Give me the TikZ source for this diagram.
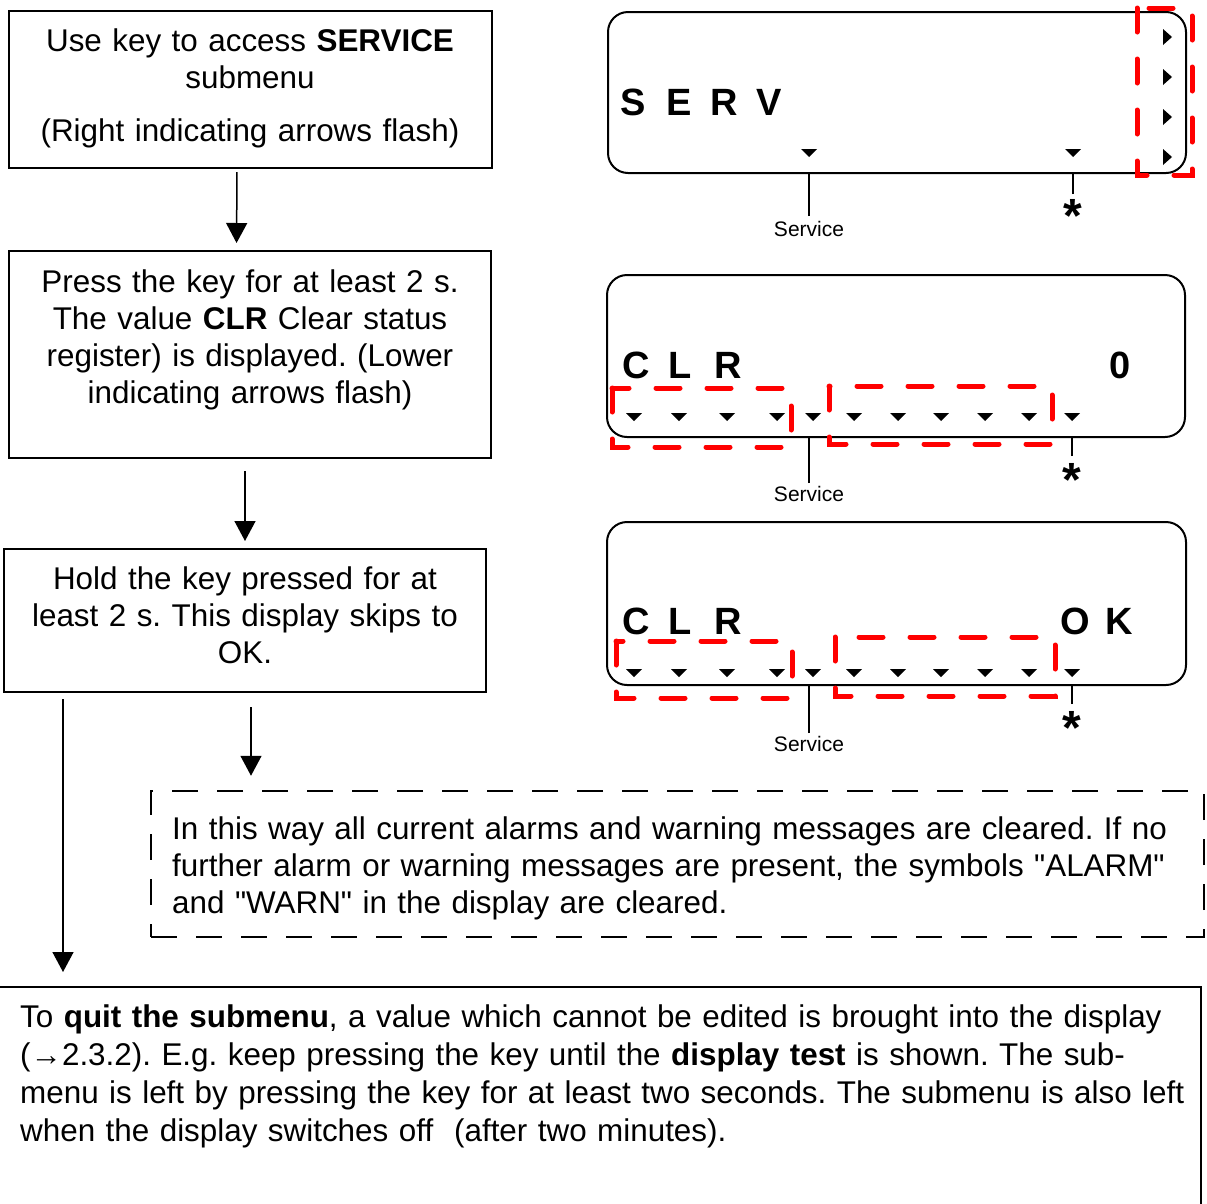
\documentclass[tikz,border=0pt]{standalone}
\usepackage{fontspec}
\setmainfont{Liberation Sans}
\usetikzlibrary{arrows.meta,calc}
\frenchspacing

% small LCD segment markers
\newcommand\lcddown[2]{\fill (#1-8,#2-4) -- (#1+8,#2-4) -- (#1,#2+4) -- cycle;}
\newcommand\lcdright[2]{\fill (#1-4,#2-8) -- (#1-4,#2+8) -- (#1+5,#2) -- cycle;}
\newcommand\dq{\textquotedbl}

\begin{document}
\begin{tikzpicture}[x=1pt,y=-1pt,
  box/.style={draw, line width=2pt, inner sep=0pt},
  body/.style={font=\fontsize{31.4}{37}\selectfont, inner sep=0pt},
  lcd/.style={draw, line width=2pt, rounded corners=20pt, inner sep=0pt},
  flash/.style={draw=red, line width=5pt, dash pattern=on 24pt off 27pt, line cap=round},
  note/.style={draw, line width=2.5pt, dash pattern=on 26pt off 19pt, inner sep=0pt},
  arr/.style={line width=1.5pt, -{Triangle[length=20pt,width=21pt]}},
  lead/.style={line width=1.3pt},
  segch/.style={font=\fontsize{38}{38}\selectfont\bfseries, anchor=base, inner sep=0pt},
  tag/.style={font=\fontsize{21}{21}\selectfont, inner sep=1pt, anchor=north},
  star/.style={font=\fontsize{48}{48}\selectfont\bfseries, inner sep=0pt, anchor=north}]
\useasboundingbox (0,0) rectangle (1207,1203);
\clip (0,0) rectangle (1207,1203);

% ---------- left column: steps ----------
\node[box, minimum width=483pt, minimum height=157pt] (b1) at (250.5,89.5) {};
\node[body, text width=470pt, align=center, anchor=base] (t1) at (250,51)
  {Use key to access \textbf{SERVICE}\\ submenu\\[16pt] (Right indicating arrows flash)};

\node[box, minimum width=482pt, minimum height=207pt] (b2) at (250,354.5) {};
\node[body, text width=470pt, align=center, anchor=base] (t2) at (250,292)
  {Press the key for at least 2 s.\\ The value \textbf{CLR} Clear status\\ register) is displayed. (Lower\\ indicating arrows flash)};

\node[box, minimum width=482pt, minimum height=143pt] (b3) at (245,620.5) {};
\node[body, text width=470pt, align=center, anchor=base] (t3) at (245,589)
  {Hold the key pressed for at\\ least 2 s. This display skips to\\ OK.};

% ---------- note and quit box ----------
\node[note, minimum width=1053pt, minimum height=146pt] (b4) at (677.5,864) {};
\node[body, text width=1030pt, align=left, anchor=base west] (t4) at (172,839)
  {In this way all current alarms and warning messages are cleared. If no\\
   further alarm or warning messages are present, the symbols \dq ALARM\dq\\
   and \dq WARN\dq\ in the display are cleared.};

\node[box, minimum width=1211pt, minimum height=243pt] (b5) at (595.5,1108.5) {};
\node[body, font=\fontsize{31.4}{38}\selectfont, text width=1185pt, align=left, anchor=base west] (t5) at (20,1027)
  {To \textbf{quit the submenu}, a value which cannot be edited is brought into the display\\
   (→2.3.2). E.g. keep pressing the key until the \textbf{display test} is shown. The sub-\\
   menu is left by pressing the key for at least two seconds. The submenu is also left\\
   when the display switches off~ (after two minutes).};

% ---------- flow arrows ----------
\coordinate (a3top) at ([xshift=-182pt]b3.south);
\coordinate (a4top) at ([xshift=6pt]b3.south);
\draw[arr, shorten <=3pt, shorten >=7pt] ([xshift=-13.5pt]b1.south) -- ([xshift=-13.5pt]b2.north);
\draw[arr, shorten <=12pt, shorten >=7pt] ([xshift=-5pt]b2.south) -- (b3.north);
\draw[arr, shorten <=6pt, shorten >=14pt] (a3top) -- (a3top |- b5.north);
\draw[arr, shorten <=14pt, shorten >=14pt] (a4top) -- (a4top |- b4.north);

% ---------- display 1: SERV ----------
\node[lcd, minimum width=578pt, minimum height=161pt] (d1) at (897,92.5) {};
\node[segch] (d1s) at (633,115) {S};
\node[segch] (d1e) at (679.5,115) {E};
\node[segch] (d1r) at (724,115) {R};
\node[segch] (d1v) at (769,115) {V};
\lcddown{809}{153}
\lcddown{1073}{153}
\foreach \yy in {37,77,117,157} {\lcdright{1167}{\yy}}
\draw[flash] (1137,8) rectangle (1192,175);
\node[tag] (v1) at (809,220) {Service};
\node[star] (s1) at (1073,199) {*};
\draw[lead, shorten <=4pt] (v1.north) -- (v1.north |- d1.south);
\draw[lead, shorten <=5pt] (s1.north) -- (s1.north |- d1.south);

% ---------- display 2: CLR 0 ----------
\node[lcd, minimum width=578pt, minimum height=162pt] (d2) at (896,356) {};
\node[segch] (d2c) at (636,378) {C};
\node[segch] (d2l) at (680,378) {L};
\node[segch] (d2r) at (728,378) {R};
\node[segch] (d2n) at (1120,378) {0};
\foreach \xx in {634,679,727,777,813,854,898,941,985,1029,1072} {\lcddown{\xx}{417}}
\draw[flash] (612,388) rectangle (791,447);
\draw[flash] (829,386) rectangle (1052,444);
\node[tag] (v2) at (809,485) {Service};
\node[star] (s2) at (1072,463) {*};
\draw[lead, shorten <=2pt] (v2.north) -- (v2.north |- d2.south);
\draw[lead, shorten <=7pt] (s2.north) -- (s2.north |- d2.south);

% ---------- display 3: CLR OK ----------
\node[lcd, minimum width=579pt, minimum height=163pt] (d3) at (896.5,603.5) {};
\node[segch] (d3c) at (636,634) {C};
\node[segch] (d3l) at (680,634) {L};
\node[segch] (d3r) at (728,634) {R};
\node[segch] (d3o) at (1075,634) {O};
\node[segch] (d3k) at (1119,634) {K};
\foreach \xx in {634,679,727,777,813,854,898,941,985,1029,1072} {\lcddown{\xx}{673}}
\draw[flash] (616,641) rectangle (792,698);
\draw[flash] (835,637) rectangle (1055,696);
\node[tag] (v3) at (809,735) {Service};
\node[star] (s3) at (1072,711) {*};
\draw[lead, shorten <=2pt] (v3.north) -- (v3.north |- d3.south);
\draw[lead, shorten <=7pt] (s3.north) -- (s3.north |- d3.south);
\end{tikzpicture}
\end{document}
